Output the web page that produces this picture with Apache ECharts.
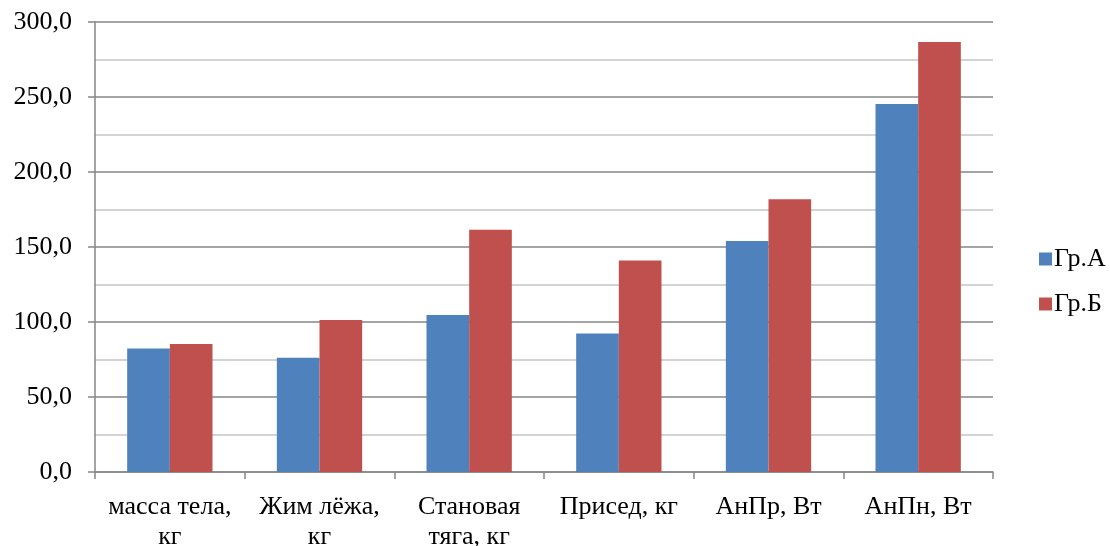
<!DOCTYPE html>
<html>
<head>
<meta charset="utf-8">
<script src="https://cdn.jsdelivr.net/npm/echarts@6/dist/echarts.min.js"></script>
<style>
  html, body { margin: 0; padding: 0; background: #fff; }
  #chart { width: 1110px; height: 546px; }
</style>
</head>
<body>
<div id="chart"></div>
<script>
// Показатели групп
const categories = ['масса тела,\nкг', 'Жим лёжа,\nкг', 'Становая\nтяга, кг', 'Присед, кг', 'АнПр, Вт', 'АнПн, Вт'];
const seriesNames = ['Гр.А', 'Гр.Б'];
const groupA = [82.3, 76.2, 104.7, 92.3, 154.0, 245.3];
const groupB = [85.3, 101.3, 161.5, 141.0, 181.8, 286.7];

const FONT = '"Liberation Serif", "Times New Roman", serif';
const AXIS_GRAY = '#868686';

const chart = echarts.init(document.getElementById('chart'), null, { renderer: 'canvas' });

chart.setOption({
  animation: false,
  backgroundColor: '#ffffff',
  textStyle: { fontFamily: FONT, color: '#000' },
  grid: { left: 95, right: 117, top: 22, bottom: 74, containLabel: false, outerBoundsMode: 'none' },
  legend: {
    orient: 'vertical',
    left: 1034,
    top: 241,
    itemWidth: 13,
    itemHeight: 13,
    itemGap: 19,
    icon: 'rect',
    textStyle: { fontFamily: FONT, fontSize: 26, color: '#000', padding: [0, 0, 0, -3] },
    data: seriesNames
  },
  xAxis: {
    type: 'category',
    data: categories,
    axisLine: { show: true, lineStyle: { color: AXIS_GRAY, width: 1.5 } },
    axisTick: { show: true, length: 7, lineStyle: { color: AXIS_GRAY, width: 1.5 } },
    axisLabel: {
      interval: 0,
      margin: 20,
      fontFamily: FONT,
      fontSize: 26,
      lineHeight: 30,
      color: '#000'
    },
    splitLine: { show: false }
  },
  yAxis: [
    {
      // сетка с шагом 25: основные линии темнее, промежуточные светлее
      type: 'value',
      min: 0,
      max: 300,
      interval: 25,
      axisLine: { show: false },
      axisTick: { show: false },
      axisLabel: { show: false },
      splitLine: { show: true, lineStyle: { color: [AXIS_GRAY, '#c4c4c4'], width: 1.5 } }
    },
    {
      type: 'value',
      position: 'left',
      min: 0,
      max: 300,
      interval: 50,
      axisLine: { show: true, lineStyle: { color: AXIS_GRAY, width: 1.5 } },
      axisTick: { show: true, length: 7, lineStyle: { color: AXIS_GRAY, width: 1.5 } },
      axisLabel: {
        margin: 23,
        fontFamily: FONT,
        fontSize: 26,
        color: '#000',
        formatter: v => v.toFixed(1).replace('.', ',')
      },
      splitLine: { show: false }
    }
  ],
  series: [
    {
      name: seriesNames[0],
      type: 'bar',
      data: groupA,
      yAxisIndex: 0,
      barGap: '0%',
      barCategoryGap: '43%',
      itemStyle: { color: '#4F81BD' }
    },
    {
      name: seriesNames[1],
      type: 'bar',
      data: groupB,
      yAxisIndex: 0,
      barGap: '0%',
      barCategoryGap: '43%',
      itemStyle: { color: '#C0504D' }
    }
  ]
});
</script>
</body>
</html>
